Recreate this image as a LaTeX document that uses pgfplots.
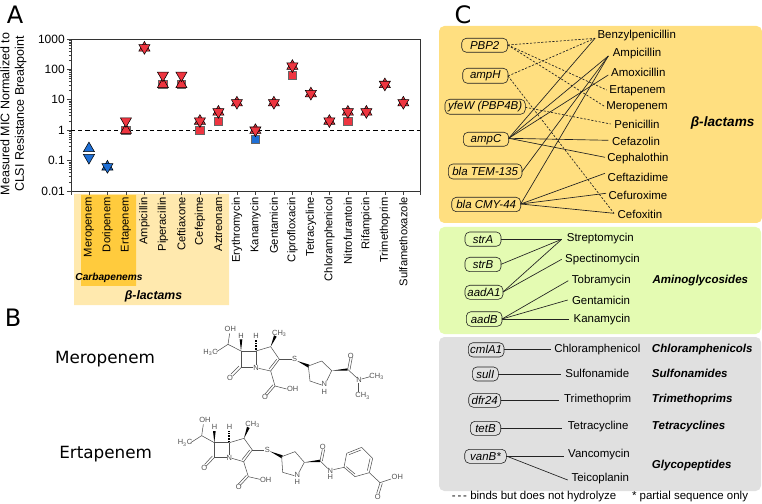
\documentclass[border=0pt]{standalone}
\usepackage{fontspec}
\setmainfont{Liberation Sans}
\newfontfamily\lettersfont{DejaVu Sans}
\usepackage{pgfplots}
\pgfplotsset{compat=1.18}

\definecolor{mred}{HTML}{EE3540}
\definecolor{mblue}{HTML}{1E6FD6}
\definecolor{lacLight}{HTML}{FFE9AE}
\definecolor{carba}{HTML}{FFCB3D}
\definecolor{lacPanel}{HTML}{FFDF80}
\definecolor{aminoPanel}{HTML}{E4FBB2}
\definecolor{grayPanel}{HTML}{E0E0E0}
\definecolor{inkline}{HTML}{222222}
\definecolor{molline}{HTML}{505050}

% sizes: the picture is 762 x 503 units at 0.75pt each
\newcommand\fsA{\fontsize{8.6pt}{10pt}\selectfont}
\newcommand\fsB{\fontsize{8.65pt}{11pt}\selectfont\bfseries\itshape}
\newcommand\fsM{\fontsize{5.6pt}{6pt}\selectfont}

% rounded box: x1 y1 x2 y2 radius options
\newcommand\rbox[6]{%
  \pgfmathsetmacro\mx{(#1+#3)/2}%
  \addplot[#6, rounded corners=#5] coordinates {(\mx,#2)(#3,#2)(#3,#4)(#1,#4)(#1,#2)(\mx,#2)};}
% gene box with its name
\newcommand\gene[5]{%
  \rbox{#1}{#2}{#3}{#4}{3.5pt}{draw=inkline, line width=0.45pt, fill=none}%
  \pgfmathsetmacro\gx{(#1+#3)/2}\pgfmathsetmacro\gy{(#2+#4)/2}%
  \edef\tmp{\noexpand\node[font=\noexpand\fsA\noexpand\itshape] at (axis cs:\gx,\gy) {\unexpanded{#5}};}\tmp}
\newcommand\drug[3]{\node[font=\fsA] at (axis cs:#1,#2) {#3};}
\newcommand\cls[3]{\node[font=\fsB, anchor=west, inner sep=0pt] at (axis cs:#1,#2) {#3};}
\newcommand\sol[4]{\addplot[inkline, line width=0.5pt] coordinates {(#1,#2)(#3,#4)};}
\newcommand\dsh[4]{\addplot[inkline, line width=0.5pt, dash pattern=on 1.6pt off 1.2pt] coordinates {(#1,#2)(#3,#4)};}
% molecule drawing
\newcommand\bond[4]{\addplot[molline, line width=0.4pt] coordinates {(#1,#2)(#3,#4)};}
\newcommand\wdg[6]{\addplot[fill=black, draw=none] coordinates {(#1,#2)(#3,#4)(#5,#6)(#1,#2)};}
\newcommand\hsh[4]{\addplot[black, line width=1.4pt, dash pattern=on 0.5pt off 0.7pt] coordinates {(#1,#2)(#3,#4)};}
\newcommand\atom[3]{\node[font=\fsM, text=molline, inner sep=0pt] at (axis cs:#1,#2) {#3};}

\pgfplotstableread{
x   y
2   2
3   512
4   64
5   64
6   2
7   4
8   8
9   1
10  8
11  128
12  16
13  2
14  4
15  4
16  32
17  8
}\downred
\pgfplotstableread{
x   y
2   1
3   512
4   32
5   32
6   2
7   4
8   8
9   1
10  8
11  128
12  16
13  2
14  4
15  4
16  32
17  8
}\upred
\pgfplotstableread{
x   y
2   1
4   32
5   32
6   1
7   2
11  64
14  2
}\squarered

\begin{document}
\begin{tikzpicture}
\useasboundingbox (0,0) rectangle (571.5pt,377.25pt);

% panel backgrounds and panel C
\begin{axis}[
    at={(0,0)}, anchor=south west,
    scale only axis, width=571.5pt, height=377.25pt,
    xmin=0, xmax=762, ymin=0, ymax=503, y dir=reverse,
    hide axis, clip=false,
]
\addplot[fill=lacLight, draw=none] coordinates {(74,194)(229,194)(229,305)(74,305)(74,194)};
\addplot[fill=carba, draw=none] coordinates {(81,195)(136,195)(136,286)(81,286)(81,195)};
\node[font=\fontsize{7.6pt}{8pt}\selectfont\bfseries\itshape] at (axis cs:109,278) {Carbapenems};
\node[font=\fontsize{9.2pt}{10pt}\selectfont\bfseries\itshape] at (axis cs:153.5,296) {β-lactams};

\rbox{439}{26}{762}{223}{4pt}{fill=lacPanel, draw=none}
\rbox{439}{227}{761}{334}{4pt}{fill=aminoPanel, draw=none}
\rbox{439}{337}{761}{491}{4pt}{fill=grayPanel, draw=none}

% beta-lactams
\dsh{507.7}{45}{595}{38.3}
\dsh{507.7}{45}{606.7}{90}
\dsh{507.7}{45}{605}{106.7}
\dsh{508}{76}{595}{38.3}
\dsh{508}{76}{614}{213.3}
\dsh{525.3}{107.3}{610.7}{124}
\sol{508.7}{138.3}{595}{38.3}
\sol{508.7}{138.3}{608.3}{56}
\sol{508.7}{138.3}{608.3}{75}
\sol{508.7}{138.3}{608.3}{140.3}
\sol{508.7}{138.3}{605}{157.3}
\sol{522}{171.7}{608.3}{56}
\sol{520.7}{204}{608.3}{56}
\sol{520.7}{204}{605}{173.3}
\sol{520.7}{204}{606}{193.3}
\sol{520.7}{204}{614}{213.3}
\gene{461.7}{38.3}{507.7}{52.3}{PBP2}
\gene{462.7}{68.3}{508}{83.3}{ampH}
\gene{445}{99.3}{525.3}{114.3}{yfeW (PBP4B)}
\gene{463.3}{132.3}{508.7}{146.3}{ampC}
\gene{448.3}{164}{522}{179}{bla TEM-135}
\gene{451.7}{197.3}{520.7}{211.7}{bla CMY-44}
\drug{636.7}{36}{Benzylpenicillin}
\drug{637}{53.3}{Ampicillin}
\drug{638.3}{72.3}{Amoxicillin}
\drug{637.5}{90.7}{Ertapenem}
\drug{637}{107}{Meropenem}
\drug{637}{124}{Penicillin}
\drug{636}{141}{Cefazolin}
\drug{638}{158.3}{Cephalothin}
\drug{638}{177.7}{Ceftazidime}
\drug{638}{195.7}{Cefuroxime}
\drug{640}{214}{Cefoxitin}
\node[font=\fontsize{10.2pt}{11pt}\selectfont\bfseries\itshape, anchor=west, inner sep=0pt] at (axis cs:690.5,122.7) {β-lactams};

% aminoglycosides
\sol{501}{239.3}{561.7}{239.3}
\sol{501}{264.3}{561.7}{239.3}
\sol{503}{292}{561.7}{239.3}
\sol{503}{292}{561.7}{259.3}
\sol{502}{319}{568.3}{280.7}
\sol{502}{319}{567.7}{300}
\sol{502}{319}{569}{319}
\gene{465}{232}{501}{246.3}{strA}
\gene{465}{257.3}{501}{271.7}{strB}
\gene{465}{285.3}{503}{299.3}{aadA1}
\gene{466.3}{311.7}{502}{326.3}{aadB}
\drug{600.3}{239}{Streptomycin}
\drug{602.5}{259.7}{Spectinomycin}
\drug{601.3}{280.7}{Tobramycin}
\drug{601}{300}{Gentamicin}
\drug{602}{319.3}{Kanamycin}
\cls{652.3}{280.3}{Aminoglycosides}

% the others
\sol{504}{349.7}{550.7}{349.7}
\sol{498.3}{374.3}{561.3}{374.3}
\sol{500.7}{400.3}{558.7}{400.3}
\sol{500.7}{428}{562.3}{428}
\sol{506.3}{456}{564.3}{456}
\sol{506.3}{456}{567.7}{480}
\gene{468.3}{342.7}{504}{357}{cmlA1}
\gene{472.3}{367}{498.3}{381}{sulI}
\gene{468.7}{393.3}{500.7}{407.3}{dfr24}
\gene{470.3}{421.3}{500.7}{435.3}{tetB}
\gene{464.7}{449.3}{506.3}{463.3}{vanB*}
\drug{597.3}{349.7}{Chloramphenicol}
\drug{597.3}{373.7}{Sulfonamide}
\drug{597.7}{400}{Trimethoprim}
\drug{598.2}{427}{Tetracycline}
\drug{599}{455}{Vancomycin}
\drug{600.3}{478.7}{Teicoplanin}
\cls{651.7}{349.7}{Chloramphenicols}
\cls{651.7}{373.7}{Sulfonamides}
\cls{651.7}{400}{Trimethoprims}
\cls{651.7}{427}{Tetracyclines}
\cls{651.7}{466}{Glycopeptides}
\drug{534}{497}{-\,-\,- binds but does not hydrolyze}
\drug{690}{497}{* partial sequence only}

% panel letters and names
\node[font=\lettersfont\fontsize{18pt}{20pt}\selectfont] at (axis cs:15,15) {A};
\node[font=\lettersfont\fontsize{18pt}{20pt}\selectfont] at (axis cs:13,318) {B};
\node[font=\lettersfont\fontsize{18pt}{20pt}\selectfont] at (axis cs:463,15) {C};
\node[font=\lettersfont\fontsize{12.6pt}{14pt}\selectfont] at (axis cs:105,359) {Meropenem};
\node[font=\lettersfont\fontsize{12.6pt}{14pt}\selectfont] at (axis cs:105.7,454) {Ertapenem};
\node[font=\fontsize{9.35pt}{10.9pt}\selectfont, rotate=90, align=center] at (axis cs:13.5,114)
    {Measured MIC Normalized to\\CLSI Resistance Breakpoint};
\end{axis}

% panel B, in units of a third of a pixel
\begin{axis}[
    at={(0,0)}, anchor=south west,
    scale only axis, width=571.5pt, height=377.25pt,
    xmin=0, xmax=2286, ymin=-900, ymax=609, y dir=reverse,
    hide axis, clip=false,
]
% meropenem
\bond{723}{153}{768}{153}\bond{768}{153}{768}{195}\bond{760}{203}{723}{203}\bond{723}{203}{723}{153}
\bond{723}{203}{698}{228}\bond{717}{198}{693}{222}
\bond{768}{153}{812}{140}\bond{812}{140}{838}{178}\bond{838}{178}{812}{213}\bond{830}{178}{807}{207}
\bond{812}{213}{776}{205}
\wdg{812}{140}{822}{106}{830}{110}
\wdg{723}{153}{719}{118}{727}{118}
\hsh{768}{150}{768}{118}
\bond{723}{153}{684}{133}\bond{684}{133}{689}{100}\bond{684}{133}{650}{155}
\bond{812}{213}{825}{258}\bond{825}{258}{801}{286}\bond{819}{254}{795}{282}\bond{825}{258}{860}{267}
\bond{838}{178}{875}{178}
\wdg{892}{183}{925}{203}{928}{194}
\bond{925}{198}{965}{183}\bond{965}{183}{995}{212}\bond{995}{212}{980}{243}\bond{965}{255}{930}{243}\bond{930}{243}{925}{198}
\wdg{995}{212}{1043}{205}{1043}{212}
\bond{1043}{208}{1050}{172}\bond{1050}{209}{1057}{172}\bond{1043}{208}{1070}{233}
\bond{1085}{237}{1110}{230}\bond{1075}{250}{1075}{277}
\atom{691}{88}{OH}\atom{723}{108}{H}\atom{768}{108}{H}
\atom{838}{100}{CH\textsubscript{3}}\atom{632}{157}{H\textsubscript{3}C}
\atom{768}{203}{N}\atom{690}{233}{O}\atom{795}{292}{O}\atom{878}{268}{OH}
\atom{884}{178}{S}\atom{973}{252}{N}\atom{973}{275}{H}
\atom{1052}{168}{O}\atom{1077}{241}{N}\atom{1130}{230}{CH\textsubscript{3}}\atom{1088}{288}{CH\textsubscript{3}}
% ertapenem
\bond{643}{428}{688}{428}\bond{688}{428}{688}{465}\bond{680}{473}{643}{473}\bond{643}{473}{643}{428}
\bond{643}{473}{619}{498}\bond{637}{468}{614}{493}
\bond{688}{428}{732}{415}\bond{732}{415}{757}{450}\bond{757}{450}{731}{485}\bond{749}{450}{726}{479}
\bond{731}{485}{696}{475}
\wdg{732}{415}{741}{380}{749}{384}
\wdg{643}{428}{639}{393}{647}{393}
\hsh{688}{425}{688}{393}
\bond{643}{428}{605}{407}\bond{605}{407}{610}{373}\bond{605}{407}{572}{428}
\bond{731}{485}{745}{530}\bond{745}{530}{721}{556}\bond{739}{526}{715}{552}\bond{745}{530}{780}{538}
\bond{757}{450}{793}{450}
\wdg{810}{454}{845}{475}{848}{466}
\bond{845}{470}{885}{455}\bond{885}{455}{913}{487}\bond{913}{487}{898}{515}\bond{883}{527}{848}{517}\bond{848}{517}{845}{470}
\wdg{913}{487}{960}{479}{960}{486}
\bond{960}{482}{967}{448}\bond{967}{483}{974}{448}\bond{960}{482}{983}{505}
\bond{1000}{509}{1032}{502}
\bond{1032}{502}{1040}{460}\bond{1040}{460}{1085}{442}\bond{1085}{442}{1118}{475}\bond{1118}{475}{1108}{518}\bond{1108}{518}{1065}{530}\bond{1065}{530}{1032}{502}
\bond{1047}{464}{1083}{450}\bond{1110}{476}{1102}{512}\bond{1065}{522}{1039}{500}
\bond{1108}{518}{1140}{548}\bond{1140}{548}{1130}{580}\bond{1147}{550}{1137}{582}\bond{1140}{548}{1173}{537}
\atom{615}{361}{OH}\atom{644}{382}{H}\atom{689}{382}{H}
\atom{758}{373}{CH\textsubscript{3}}\atom{555}{429}{H\textsubscript{3}C}
\atom{688}{473}{N}\atom{613}{505}{O}\atom{716}{562}{O}\atom{797}{539}{OH}
\atom{802}{450}{S}\atom{892}{525}{N}\atom{892}{545}{H}
\atom{968}{440}{O}\atom{991}{512}{N}\atom{991}{532}{H}
\atom{1133}{590}{O}\atom{1192}{532}{OH}
\end{axis}

% panel A
\begin{axis}[
    at={(53.25pt,234pt)}, anchor=south west,
    scale only axis, width=261.75pt, height=114pt,
    ymode=log, ymin=0.01, ymax=1000,
    xmin=-0.97, xmax=17.9,
    xtick={0,...,17},
    xticklabels={Meropenem,Doripenem,Ertapenem,Ampicillin,Piperacillin,Ceftiaxone,Cefepime,Aztreonam,Erythromycin,Kanamycin,Gentamicin,Ciprofloxacin,Tetracycline,Chloramphenicol,Nitrofurantoin,Rifampicin,Trimethoprim,Sulfamethoxazole},
    xticklabel style={rotate=90, anchor=east, font=\fontsize{8.4pt}{10pt}\selectfont, inner sep=1.5pt},
    extra x ticks={-0.97,17.9}, extra x tick labels={},
    ytick={0.01,0.1,1,10,100,1000},
    yticklabels={0.01,0.1,1,10,100,1000},
    minor ytick={0.02,0.03,0.04,0.05,0.06,0.07,0.08,0.09,0.2,0.3,0.4,0.5,0.6,0.7,0.8,0.9,2,3,4,5,6,7,8,9,20,30,40,50,60,70,80,90,200,300,400,500,600,700,800,900},
    yticklabel style={font=\fontsize{9pt}{10pt}\selectfont, inner sep=1.5pt},
    /pgf/number format/assume math mode=true,
    tick align=outside, xtick pos=bottom, ytick pos=left,
    major tick length=3pt, minor tick length=1.6pt,
    tick style={black!75, line width=0.5pt},
    axis line style={black!80, line width=0.7pt},
    clip=false,
]
\addplot[black, line width=0.5pt, dash pattern=on 3.2pt off 2.2pt] coordinates {(-0.97,1)(17.9,1)};
% squares, then up and down triangles on top
\addplot[only marks, mark=square*, mark size=3.1pt, mark options={fill=mred, draw=black!60, line width=0.5pt}] table {\squarered};
\addplot[only marks, mark=square*, mark size=3.1pt, mark options={fill=mblue, draw=black!60, line width=0.5pt}] coordinates {(9,0.5)};
\addplot[only marks, mark=triangle*, mark size=4.8pt, mark options={fill=mblue, draw=black, line width=0.4pt}] coordinates {(0,0.25)(1,0.0625)};
\addplot[only marks, mark=triangle*, mark size=4.8pt, mark options={fill=mred, draw=black, line width=0.4pt}] table {\upred};
\addplot[only marks, mark=triangle*, mark size=4.8pt, mark options={fill=mblue, draw=black, line width=0.4pt, rotate=180}] coordinates {(0,0.125)(1,0.0625)};
\addplot[only marks, mark=triangle*, mark size=4.8pt, mark options={fill=mred, draw=black, line width=0.4pt, rotate=180}] table {\downred};
\end{axis}
\end{tikzpicture}
\end{document}
